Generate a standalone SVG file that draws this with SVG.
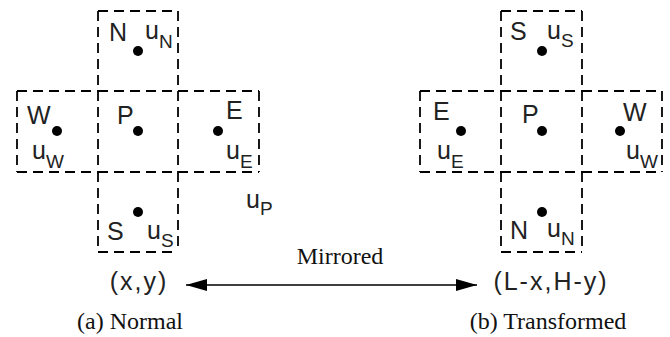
<svg xmlns="http://www.w3.org/2000/svg" width="670" height="337" viewBox="0 0 670 337">
<style>
.cell{fill:none;stroke:#000;stroke-width:1.8;stroke-dasharray:10 6}
.dot{fill:#000}
.lb{font-family:"Liberation Sans",Arial,sans-serif;font-size:25px;fill:#222}
.sb{font-size:19px}
.cap{font-family:"Liberation Serif","Times New Roman",serif;font-size:24px;fill:#111}
.con{stroke:#000;stroke-width:1.6;fill:none}
</style>
<defs>
<marker id="ah" markerUnits="userSpaceOnUse" markerWidth="22" markerHeight="13" viewBox="0 0 22 13" refX="21" refY="6.5" orient="auto-start-reverse">
<path d="M0,0.5 L21,6.5 L0,12.5 z" fill="#000"/>
</marker>
</defs>

<g id="normal">
<g id="n-N"><path class="cell" d="M98,11 h80 M178,11 v80 M98,11 v80"/><circle class="dot" cx="138" cy="51" r="5"/>
<text class="lb" x="109" y="41">N</text><text class="lb" x="145" y="39">u<tspan class="sb" x="159" y="48">N</tspan></text></g>
<g id="n-W"><path class="cell" d="M17,91 h81 M17,91 v81 M17,172 h81"/><circle class="dot" cx="57" cy="131" r="5"/>
<text class="lb" x="27" y="124">W</text><text class="lb" x="32" y="159">u<tspan class="sb" x="46" y="168">W</tspan></text></g>
<g id="n-P"><path class="cell" d="M98,91 h80 M98,91 v81 M178,91 v81 M98,172 h80"/><circle class="dot" cx="138" cy="131" r="5"/>
<text class="lb" x="117" y="124">P</text></g>
<g id="n-E"><path class="cell" d="M178,91 h81 M259,91 v81 M178,172 h81"/><circle class="dot" cx="218" cy="131" r="5"/>
<text class="lb" x="226" y="119">E</text><text class="lb" x="226" y="159">u<tspan class="sb" x="240" y="168">E</tspan></text></g>
<g id="n-S"><path class="cell" d="M98,172 v80 M178,172 v80 M98,252 h80"/><circle class="dot" cx="138" cy="212" r="5"/>
<text class="lb" x="107" y="240">S</text><text class="lb" x="147" y="239">u<tspan class="sb" x="161" y="247">S</tspan></text></g>
<text class="lb" x="246" y="208">u<tspan class="sb" x="260" y="215">P</tspan></text>
<text class="lb" x="139" y="290" text-anchor="middle" letter-spacing="2">(x,y)</text>
<text class="cap" x="130" y="329" text-anchor="middle">(a) Normal</text>
</g>

<g id="transformed">
<g id="t-S"><path class="cell" d="M501,11 h81 M582,11 v80 M501,11 v80"/><circle class="dot" cx="542" cy="51" r="5"/>
<text class="lb" x="510" y="40">S</text><text class="lb" x="547" y="39">u<tspan class="sb" x="561" y="47">S</tspan></text></g>
<g id="t-E"><path class="cell" d="M420,91 h81 M420,91 v81 M420,172 h81"/><circle class="dot" cx="461" cy="131" r="5"/>
<text class="lb" x="433" y="120">E</text><text class="lb" x="437" y="159">u<tspan class="sb" x="451" y="168">E</tspan></text></g>
<g id="t-P"><path class="cell" d="M501,91 h81 M501,91 v81 M582,91 v81 M501,172 h81"/><circle class="dot" cx="542" cy="131" r="5"/>
<text class="lb" x="522" y="123">P</text></g>
<g id="t-W"><path class="cell" d="M582,91 h80 M662,91 v81 M582,172 h80"/><circle class="dot" cx="620" cy="131" r="5"/>
<text class="lb" x="623" y="121">W</text><text class="lb" x="626" y="159">u<tspan class="sb" x="640" y="168">W</tspan></text></g>
<g id="t-N"><path class="cell" d="M501,172 v80 M582,172 v80 M501,252 h81"/><circle class="dot" cx="542" cy="212" r="5"/>
<text class="lb" x="510" y="239">N</text><text class="lb" x="547" y="237">u<tspan class="sb" x="561" y="245">N</tspan></text></g>
<text class="lb" x="551" y="290" text-anchor="middle" letter-spacing="2">(L-x,H-y)</text>
<text class="cap" x="548" y="329" text-anchor="middle">(b) Transformed</text>
</g>

<g id="connectors">
<path class="con" d="M186,285 H477" marker-start="url(#ah)" marker-end="url(#ah)"/>
<text class="cap" x="340" y="264" text-anchor="middle" font-size="21">Mirrored</text>
</g>
</svg>
